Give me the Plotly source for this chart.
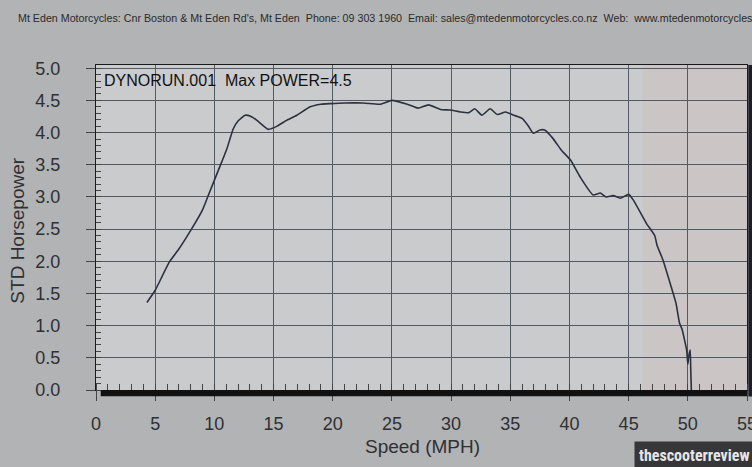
import plotly.graph_objects as go

# Data read from the dyno sheet
speed_mph = [4.3, 5.0, 6.2, 7.0, 8.0, 9.0, 9.5, 10.35, 11.06, 11.6, 12.0, 12.6, 13.1, 13.6,
             14.57, 15.3, 16.1, 16.97, 18.1, 19.0, 19.8, 21.0, 22.6, 24.0, 25.0, 26.3, 27.2,
             28.1, 29.1, 29.9, 30.8, 31.5, 32.0, 32.6, 33.3, 33.9, 34.6, 35.3, 36.0, 36.5,
             36.95, 37.5, 37.9, 38.6, 39.3, 40.1, 40.9, 42.0, 42.6, 43.1, 43.7, 44.3, 45.0,
             45.4, 46.5, 47.2, 47.4, 47.9, 48.6, 49.0, 49.3, 49.5, 49.9, 50.0, 50.1, 50.2,
             50.25, 50.3]
std_hp = [1.36, 1.55, 1.99, 2.19, 2.48, 2.80, 3.03, 3.42, 3.75, 4.06, 4.18, 4.27, 4.25, 4.19,
          4.05, 4.10, 4.19, 4.27, 4.40, 4.44, 4.45, 4.46, 4.46, 4.44, 4.50, 4.44, 4.38,
          4.43, 4.36, 4.35, 4.32, 4.31, 4.37, 4.27, 4.37, 4.28, 4.32, 4.27, 4.22, 4.11,
          3.99, 4.04, 4.04, 3.91, 3.73, 3.57, 3.31, 3.03, 3.06, 3.00, 3.02, 2.98, 3.04,
          2.95, 2.59, 2.40, 2.25, 2.02, 1.60, 1.35, 1.04, 0.95, 0.62, 0.40, 0.55, 0.62,
          0.30, 0.0]

x_ticks = [0, 5, 10, 15, 20, 25, 30, 35, 40, 45, 50, 55]
y_ticks = [0.0, 0.5, 1.0, 1.5, 2.0, 2.5, 3.0, 3.5, 4.0, 4.5, 5.0]

header = ("Mt Eden Motorcycles: Cnr Boston &amp; Mt Eden Rd's, Mt Eden  Phone: 09 303 1960  "
          "Email: sales@mtedenmotorcycles.co.nz  Web:  www.mtedenmotorcycles.co.nz")
run_label = "DYNORUN.001  Max POWER=4.5"

FONT = "Liberation Sans, Arial, sans-serif"
TXT = "#2f3033"
GRID = "#545966"

fig = go.Figure()
fig.add_trace(go.Scatter(x=speed_mph, y=std_hp, mode="lines",
                         line=dict(color="#2c3140", width=1.6, shape="spline", smoothing=0.5),
                         hoverinfo="skip", showlegend=False))

fig.update_layout(
    width=752, height=467,
    margin=dict(l=96, r=5, t=65, b=77),
    paper_bgcolor="#b2b3b5",
    plot_bgcolor="#cacbcd",
    font=dict(family=FONT, color=TXT),
    xaxis=dict(range=[0, 55], tickvals=x_ticks, ticktext=[str(v) for v in x_ticks],
               showgrid=True, gridcolor=GRID, gridwidth=1, zeroline=False,
               showline=True, linecolor="#1a1a1a", linewidth=1.2, mirror=True,
               ticks="outside", ticklen=10, tickcolor="#444", tickwidth=1,
               minor=dict(dtick=1, ticks="inside", ticklen=6, tickcolor="#444",
                          showgrid=False),
               tickfont=dict(size=18, color=TXT), ticklabelstandoff=7,
               ticklabeloverflow="allow", automargin=False),
    yaxis=dict(range=[0, 5.05], tickvals=y_ticks, ticktext=[f"{v:.1f}" for v in y_ticks],
               showgrid=True, gridcolor=GRID, gridwidth=1, zeroline=False,
               showline=True, linecolor="#1a1a1a", linewidth=1.2, mirror=True,
               ticks="outside", ticklen=9, tickcolor="#444", tickwidth=1,
               minor=dict(dtick=0.1, ticks="inside", ticklen=5, tickcolor="#444",
                          showgrid=False),
               tickfont=dict(size=18, color=TXT), ticklabelstandoff=22, automargin=False),
    shapes=[
        # pinkish tint on right side of sheet
        dict(type="rect", xref="paper", yref="paper", x0=0.84, x1=1.0, y0=0, y1=1,
             fillcolor="rgba(205,185,185,0.35)", line=dict(width=0), layer="below"),
        # thick black baseline
        dict(type="rect", xref="x", yref="paper", x0=0.4, x1=55, y0=-0.019, y1=0.0,
             fillcolor="#111", line=dict(width=0)),
        # dark edge of the sheet on the right
        dict(type="rect", xref="paper", yref="paper", x0=1.002, x1=1.012, y0=-0.02, y1=1.0,
             fillcolor="#1e1f26", line=dict(width=0)),
    ],
    annotations=[
        dict(text=header, xref="paper", yref="paper", x=-0.123, y=1.145,
             xanchor="left", yanchor="middle", showarrow=False,
             font=dict(size=10.7, color="#2a2a2a")),
        dict(text=run_label, xref="paper", yref="paper", x=0.009, y=0.951,
             xanchor="left", yanchor="middle", showarrow=False,
             font=dict(size=16, color="#111")),
        dict(text="STD Horsepower", xref="paper", yref="paper", x=-0.12, y=0.49,
             xanchor="center", yanchor="middle", textangle=-90, showarrow=False,
             font=dict(size=19, color=TXT)),
        dict(text="Speed (MPH)", xref="paper", yref="paper", x=0.502, y=-0.175,
             xanchor="center", yanchor="middle", showarrow=False,
             font=dict(size=19, color=TXT)),
        dict(text="<b>thescooterreview</b>", xref="paper", yref="paper", x=1.013, y=-0.203,
             xanchor="right", yanchor="middle", showarrow=False,
             bgcolor="rgba(45,45,48,0.92)", borderpad=4,
             font=dict(size=16, color="#e6e6e6",
                       family="Liberation Sans Narrow, Roboto Condensed, Arial Narrow, sans-serif")),
    ],
)

fig.write_html("out.html", config={"displayModeBar": False},
               post_script="document.body.style.margin='0';")
